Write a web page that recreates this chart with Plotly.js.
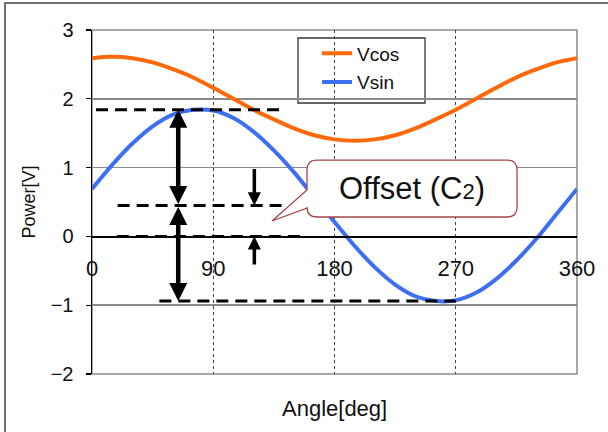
<!DOCTYPE html>
<html><head><meta charset="utf-8">
<script src="https://cdn.plot.ly/plotly-3.0.1.min.js"></script>
<style>html,body{margin:0;padding:0;background:#fff}#chart{width:608px;height:432px}</style>
</head><body><div id="chart"></div>
<script>
// ---- data ----
const angles = [0,15,30,45,60,75,90,105,120,135,150,165,180,195,210,225,240,255,270,285,300,315,330,345,360];
const vcos   = [2.59,2.61,2.59,2.53,2.43,2.31,2.16,2.00,1.84,1.70,1.57,1.47,1.41,1.39,1.41,1.47,1.57,1.70,1.84,2.00,2.16,2.31,2.43,2.53,2.59];
const vsin   = [0.69,1.04,1.35,1.60,1.77,1.84,1.83,1.72,1.52,1.25,0.93,0.57,0.21,-0.14,-0.45,-0.70,-0.87,-0.94,-0.93,-0.82,-0.62,-0.35,-0.03,0.33,0.69];
const seriesNames = ['Vcos','Vsin'];
const xTickVals = [0,90,180,270,360];
const xTickText = ['0','90','180','270','360'];
const yTickVals = [-2,-1,0,1,2,3];
const yTickText = ['\u22122','\u22121','0','1','2','3'];
const calloutText = 'Offset (C<span style="font-size:22px">2</span>)';

// ---- derived levels ----
const vMax = Math.max(...vsin);
const vMin = Math.min(...vsin);
const offset = (vMax + vMin) / 2;

const FONT = 'Liberation Sans, Arial, Helvetica, sans-serif';
const ORANGE = '#ff690a';
const BLUE = '#3d6ff2';

const traces = [
  {x: angles, y: vcos, name: seriesNames[0], type: 'scatter', mode: 'lines',
   line: {color: ORANGE, width: 4, shape: 'spline', smoothing: 1}, legendgroup: 'a'},
  {x: angles, y: vsin, name: seriesNames[1], type: 'scatter', mode: 'lines',
   line: {color: BLUE, width: 4, shape: 'spline', smoothing: 1}, legendgroup: 'b'}
];

// dashed reference levels and their horizontal extents (deg)
const levels = [vMax, offset, 0, vMin];
const levelSpans = [[3,140],[19,142],[18.5,156],[50,270]];
const shapes = [];
// outer frame
shapes.push({type:'rect', xref:'paper', yref:'paper', x0:-0.1794, x1:1.3, y0:-0.4, y1:1.0785,
  line:{color:'#707070', width:2}, fillcolor:'rgba(0,0,0,0)', layer:'below'});
// plot-area border
shapes.push({type:'rect', xref:'paper', yref:'paper', x0:0, x1:1, y0:0, y1:1,
  line:{color:'#8c8c8c', width:1.5}, fillcolor:'rgba(0,0,0,0)', layer:'below'});
levels.forEach((lv, i) => {
  shapes.push({type:'line', xref:'x', yref:'y', x0: levelSpans[i][0], x1: levelSpans[i][1], y0: lv, y1: lv,
    line:{color:'#000', width:3, dash:'12px,7px'}, layer:'above'});
});
// callout balloon (data coords)
const bx0 = 159.6, bx1 = 315.5, byT = 1.11, byB = 0.282, rx = 7.4, ry = 0.145;
const tipX = 133.6, tipY = 0.224, tailA = 0.413, tailB = 0.674;
const path = `M${bx0+rx},${byT} L${bx1-rx},${byT} Q${bx1},${byT} ${bx1},${byT-ry} L${bx1},${byB+ry} Q${bx1},${byB} ${bx1-rx},${byB} L${bx0+rx},${byB} Q${bx0},${byB} ${bx0},${byB+ry} L${bx0},${tailA} L${tipX},${tipY} L${bx0},${tailB} L${bx0},${byT-ry} Q${bx0},${byT} ${bx0+rx},${byT} Z`;
shapes.push({type:'path', xref:'x', yref:'y', path: path, fillcolor:'#ffffff',
  line:{color:'#a5474a', width:1.3}, layer:'above'});

const bigX = 64, smallX = 120.5, smallTail = -0.43;
const annotations = [
  // big double arrows
  {x: bigX, y: vMax, ax: bigX, ay: offset, xref:'x', yref:'y', axref:'x', ayref:'y', text:'', showarrow:true,
   arrowhead:2, arrowsize:0.8, arrowwidth:4.5, arrowside:'end+start', startarrowhead:2, startarrowsize:0.8, arrowcolor:'#000', standoff:0, startstandoff:0},
  {x: bigX, y: vMin, ax: bigX, ay: offset, xref:'x', yref:'y', axref:'x', ayref:'y', text:'', showarrow:true,
   arrowhead:2, arrowsize:0.8, arrowwidth:4.5, arrowside:'end+start', startarrowhead:2, startarrowsize:0.8, arrowcolor:'#000', standoff:0, startstandoff:0},
  // small arrows
  {x: smallX, y: offset, ax: smallX, ay: 1, xref:'x', yref:'y', axref:'x', ayref:'y', text:'', showarrow:true,
   arrowhead:2, arrowsize:0.75, arrowwidth:3.5, arrowcolor:'#000', standoff:0},
  {x: smallX, y: 0, ax: smallX, ay: smallTail, xref:'x', yref:'y', axref:'x', ayref:'y', text:'', showarrow:true,
   arrowhead:2, arrowsize:0.75, arrowwidth:3.5, arrowcolor:'#000', standoff:0},
  // callout text
  {x: 237.5, y: 0.69, xref:'x', yref:'y', text: calloutText, showarrow:false,
   font:{family:FONT, size:31, color:'#111'}},
  // x axis title
  {x: 0.5, y: -0.1, xref:'paper', yref:'paper', yanchor:'middle', text:'Angle[deg]', showarrow:false,
   font:{family:FONT, size:22, color:'#111'}}
];

const layout = {
  width: 608, height: 432,
  margin: {l: 92, r: 31, t: 30, b: 58, pad: 0},
  paper_bgcolor: '#ffffff', plot_bgcolor: '#ffffff',
  showlegend: true,
  legend: {x: 0.464, y: 0.987, xanchor:'left', yanchor:'top', bgcolor:'rgba(0,0,0,0)', borderwidth:0,
    font:{family:FONT, size:19, color:'#111'}, traceorder:'grouped', tracegroupgap: 1},
  xaxis: {range:[0,360], tickvals: xTickVals, ticktext: xTickText, anchor:'free', position: 0.4,
    showline:true, linecolor:'#000', linewidth:1.5, ticks:'', ticklabelstandoff: 12,
    tickfont:{family:FONT, size:22, color:'#111'},
    showgrid:true, gridcolor:'#444', gridwidth:1, griddash:'dot', zeroline:false, fixedrange:true},
  yaxis: {range:[-2,3], tickvals: yTickVals, ticktext: yTickText,
    showline:true, linecolor:'#000', linewidth:1.5, ticks:'outside', ticklen:5, tickcolor:'#000', tickwidth:1.2,
    ticklabelstandoff: 8, tickfont:{family:FONT, size:20, color:'#111'},
    showgrid:true, gridcolor:'#8a8a8a', gridwidth:1.5, zeroline:false, fixedrange:true,
    title:{text:'Power[V]', font:{family:FONT, size:18, color:'#111'}, standoff: 10}},
  shapes: shapes,
  annotations: annotations
};
// legend frame (drawn as a shape around the legend)
layout.shapes.push({type:'rect', xref:'paper', yref:'paper', x0:0.4247, x1:0.6866, y0:(374-103)/344, y1:(374-38)/344,
  line:{color:'#333', width:1.3}, fillcolor:'#ffffff', layer:'below'});

Plotly.newPlot('chart', traces, layout, {staticPlot:true, displayModeBar:false});
</script></body></html>
